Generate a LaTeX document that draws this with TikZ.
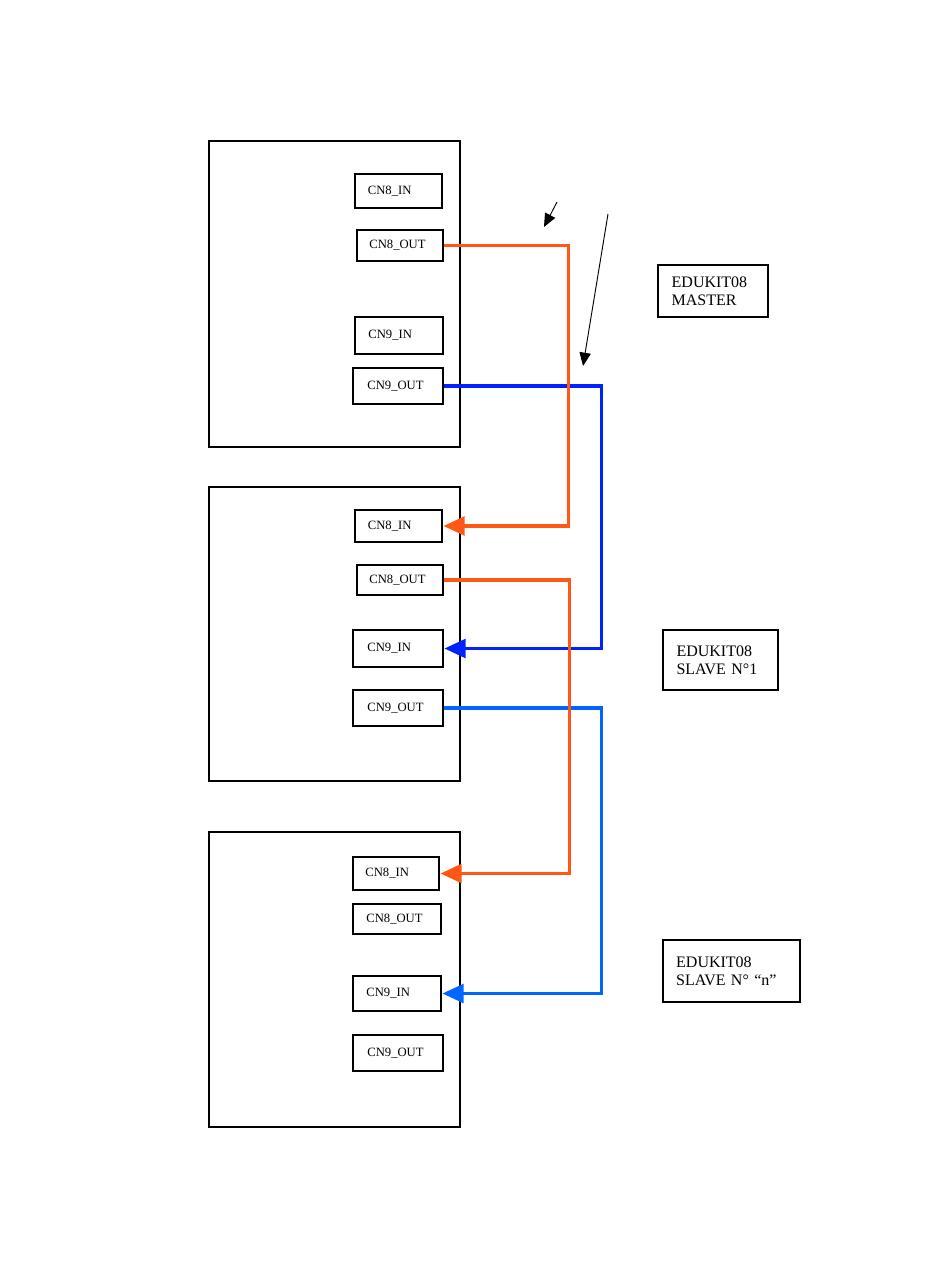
\documentclass[tikz,border=0pt]{standalone}
\usepackage{fontspec}
\setmainfont{Liberation Serif}
\usetikzlibrary{arrows.meta}
\definecolor{wireorange}{RGB}{255,88,20}
\definecolor{wireblue}{RGB}{0,34,255}
\definecolor{wirelight}{RGB}{0,102,255}

\begin{document}
\begin{tikzpicture}[x=.75pt, y=-.75pt,
 board/.style={draw, line width=1.9pt, minimum width=188.25pt},
 port/.style={draw, line width=2.1pt, text width=46pt, inner sep=0pt, font=\fontsize{9.5}{11}\selectfont},
 tag/.style={draw, line width=1.7pt, align=left, inner sep=0pt, font=\fontsize{12}{13.5}\selectfont},
 wire/.style={line width=2.8pt},
 plug/.style={-{Triangle[length=16pt, width=14pt]}},
 pointer/.style={line width=.7pt, -{Triangle[length=10pt, width=8.5pt]}}]
\useasboundingbox[fill=white] (0,0) rectangle (950,1267);
\node[board, minimum height=229.5pt] (master) at (334.5,294) {};
\node[board, minimum height=220.5pt] (slaveone) at (334.5,634) {};
\node[board, minimum height=221.25pt] (slaven) at (334.5,979.5) {};
\foreach \n/\t/\x/\y/\w/\h in {m8in/CN8\_IN/398.5/191/87/34, m8out/CN8\_OUT/400/245.5/86/31,
  m9in/CN9\_IN/399/335.5/88/37, m9out/CN9\_OUT/398/386/90/36,
  s8in/CN8\_IN/398.5/526/87/32, s8out/CN8\_OUT/400/580/86/30,
  s9in/CN9\_IN/398/648.5/90/37, s9out/CN9\_OUT/398/708/90/36,
  n8in/CN8\_IN/396/873.5/86/33, n8out/CN8\_OUT/397/919/88/30,
  n9in/CN9\_IN/397/993.5/88/35, n9out/CN9\_OUT/398/1053/90/36} {
 \node[port, minimum width=\w*.75pt, minimum height=\h*.75pt] (\n) at (\x,\y) {\t};
}
\node[tag, text width=62pt, minimum width=82.5pt, minimum height=39pt] (mastertag) at (713,291) {EDUKIT08\\MASTER};
\node[tag, text width=66pt, minimum width=86.25pt, minimum height=45pt] (slaveonetag) at (720.5,660) {EDUKIT08\\SLAVE N°1};
\node[tag, text width=83pt, minimum width=102.75pt, minimum height=46.5pt] (slaventag) at (731.5,971) {EDUKIT08\\SLAVE N° ``n''};
\draw[wire, wireblue, plug] (m9out.east) -- ++(157,0) |- (s9in.east);
\draw[wire, wirelight, plug] (s9out.east) -- ++(157,0) |- (n9in.east);
\draw[wire, wireorange, plug] (m8out.east) -- ++(124,0) |- (s8in.east);
\draw[wire, wireorange, plug] (s8out.east) -- ++(125,0) |- (n8in.east);
\coordinate (ptr1a) at (557,202);
\coordinate (ptr1b) at (544,227);
\coordinate (ptr2a) at (608,214);
\coordinate (ptr2b) at (583,366);
\draw[pointer] (ptr1a) -- (ptr1b);
\draw[pointer] (ptr2a) -- (ptr2b);
\end{tikzpicture}
\end{document}
